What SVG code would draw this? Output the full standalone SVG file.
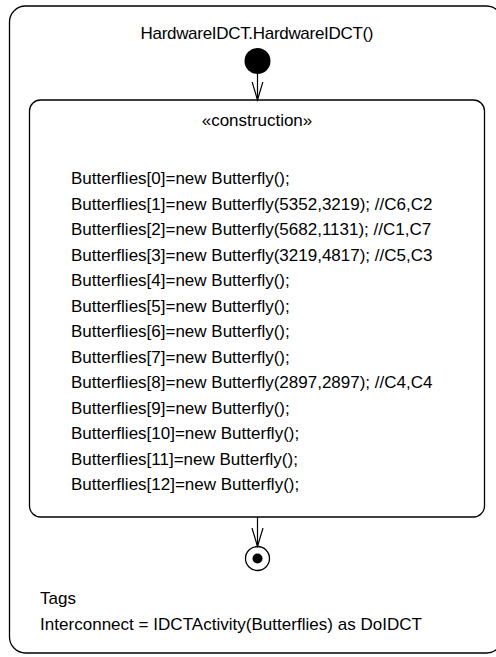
<svg xmlns="http://www.w3.org/2000/svg" width="496" height="657" viewBox="0 0 496 657">
<defs>
<style>
.frame{fill:#fff;stroke:#000;stroke-width:1.3}
.t{font-family:"Liberation Sans",Arial,sans-serif;font-size:17px;fill:#000}
.c{text-anchor:middle}
.conn{stroke:#000;stroke-width:1.2;fill:none}
</style>
<marker id="v" markerWidth="20" markerHeight="14" refX="18.5" refY="6" orient="auto" markerUnits="userSpaceOnUse" viewBox="0 0 20 12">
<path d="M0,0.5 L18.5,6 L0,11.5" fill="none" stroke="#000" stroke-width="1.2"/>
</marker>
</defs>
<g id="frame">
<rect class="frame" x="9.5" y="6" width="493" height="647" rx="16"/>
<text class="t c" x="257" y="39" textLength="233" lengthAdjust="spacing">HardwareIDCT.HardwareIDCT()</text>
</g>
<g id="initial">
<circle cx="257.5" cy="61" r="13" fill="#000"/>
</g>
<g id="construction">
<rect class="frame" x="29.5" y="100" width="455" height="417" rx="11"/>
<text class="t c" x="257" y="126">«construction»</text>
<text class="t" x="71" y="184">Butterflies[0]=new Butterfly();</text>
<text class="t" x="71" y="209.5">Butterflies[1]=new Butterfly(5352,3219); //C6,C2</text>
<text class="t" x="71" y="235">Butterflies[2]=new Butterfly(5682,1131); //C1,C7</text>
<text class="t" x="71" y="260.5">Butterflies[3]=new Butterfly(3219,4817); //C5,C3</text>
<text class="t" x="71" y="286">Butterflies[4]=new Butterfly();</text>
<text class="t" x="71" y="311.5">Butterflies[5]=new Butterfly();</text>
<text class="t" x="71" y="337">Butterflies[6]=new Butterfly();</text>
<text class="t" x="71" y="362.5">Butterflies[7]=new Butterfly();</text>
<text class="t" x="71" y="388">Butterflies[8]=new Butterfly(2897,2897); //C4,C4</text>
<text class="t" x="71" y="413.5">Butterflies[9]=new Butterfly();</text>
<text class="t" x="71" y="439">Butterflies[10]=new Butterfly();</text>
<text class="t" x="71" y="464.5">Butterflies[11]=new Butterfly();</text>
<text class="t" x="71" y="490">Butterflies[12]=new Butterfly();</text>
</g>
<g id="final">
<circle cx="257.5" cy="558.5" r="12" fill="#fff" stroke="#000" stroke-width="1.3"/>
<circle cx="257.5" cy="558.5" r="5" fill="#000"/>
</g>
<g id="tags">
<text class="t" x="40" y="604">Tags</text>
<text class="t" x="40" y="629.5" textLength="382" lengthAdjust="spacing">Interconnect = IDCTActivity(Butterflies) as DoIDCT</text>
</g>
<g id="connectors">
<line class="conn" x1="257.5" y1="74" x2="257.5" y2="100" marker-end="url(#v)"/>
<line class="conn" x1="257.5" y1="517" x2="257.5" y2="546.5" marker-end="url(#v)"/>
</g>
</svg>
